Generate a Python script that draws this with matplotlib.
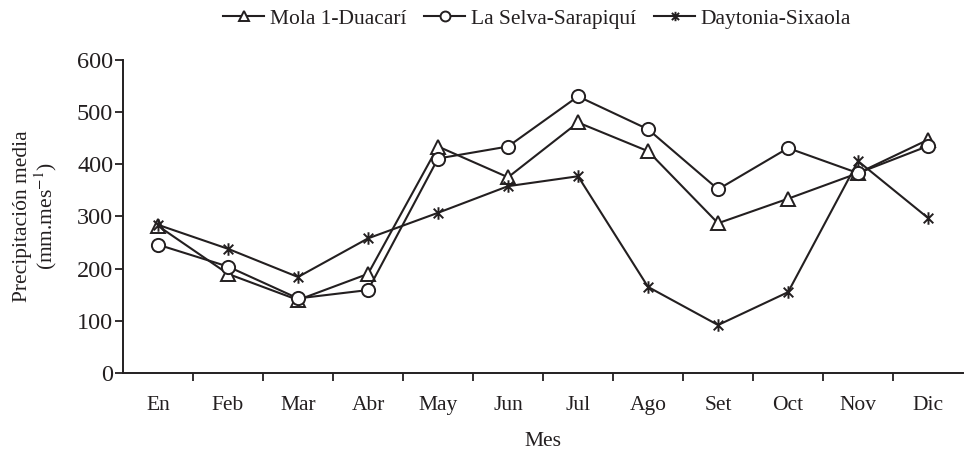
import matplotlib
matplotlib.use("Agg")
import matplotlib.pyplot as plt
import numpy as np
from matplotlib.path import Path

# Monthly mean precipitation (mm/month)
meses = ["En", "Feb", "Mar", "Abr", "May", "Jun", "Jul", "Ago", "Set", "Oct", "Nov", "Dic"]
mola = [282, 190, 140, 190, 434, 375, 480, 425, 287, 334, 383, 447]
selva = [246, 204, 143, 159, 411, 434, 530, 467, 352, 431, 383, 435]
daytonia = [284, 238, 184, 258, 307, 358, 377, 165, 92, 155, 406, 297]
series_names = ["Mola 1-Duacarí", "La Selva-Sarapiquí", "Daytonia-Sixaola"]
yticks = [0, 100, 200, 300, 400, 500, 600]

plt.rcParams["font.family"] = ["Liberation Serif", "DejaVu Serif"]
plt.rcParams["mathtext.fontset"] = "stix"
ink = "#231f20"

# asterisk marker: x plus a vertical bar
star = Path(
    [(-1, -1), (1, 1), (-1, 1), (1, -1), (0, -1.3), (0, 1.3)],
    [Path.MOVETO, Path.LINETO, Path.MOVETO, Path.LINETO, Path.MOVETO, Path.LINETO],
)

fig = plt.figure(figsize=(9.66, 4.5), dpi=100)
ax = fig.add_axes([0.1273, 0.171, 0.8697, 0.696])

x = np.arange(len(meses))
style = dict(color=ink, lw=1.5, mec=ink, mfc="white", mew=1.4)
ax.plot(x, mola, marker="^", ms=10, label=series_names[0], **style)
ax.plot(x, selva, marker="o", ms=9.5, label=series_names[1], **style)
ax.plot(x, daytonia, marker=star, ms=9, label=series_names[2], **style)

ax.set_xlim(-0.5, 11.5)
ax.set_ylim(0, 600)
ax.set_yticks(yticks)
ax.set_xticks(x)
ax.set_xticklabels(meses)
ax.set_xticks(np.arange(0.5, 11, 1), minor=True)
ax.tick_params(axis="x", which="major", length=0, pad=16.5, labelsize=15.5, colors=ink)
ax.tick_params(axis="x", which="minor", length=6, width=1.3, direction="out", color=ink)
ax.tick_params(axis="y", length=6, width=1.3, direction="out", labelsize=17.5, pad=1, colors=ink)

for s in ["top", "right"]:
    ax.spines[s].set_visible(False)
for s in ["left", "bottom"]:
    ax.spines[s].set_linewidth(1.4)
    ax.spines[s].set_color(ink)

ax.set_xlabel("Mes", fontsize=15.5, labelpad=12.5, color=ink)
ax.set_ylabel("Precipitación media\n(mm.mes$^{-1}$)", fontsize=15.5, labelpad=13,
              color=ink, linespacing=1.0)

leg = fig.legend(loc="center", bbox_to_anchor=(0.556, 0.958), ncol=3, frameon=False,
                 fontsize=15.5, handlelength=1.9, handletextpad=0.25, columnspacing=0.85,
                 markerscale=0.75, borderaxespad=0)
for t in leg.get_texts():
    t.set_color(ink)

fig.savefig("out.png", dpi=100)
